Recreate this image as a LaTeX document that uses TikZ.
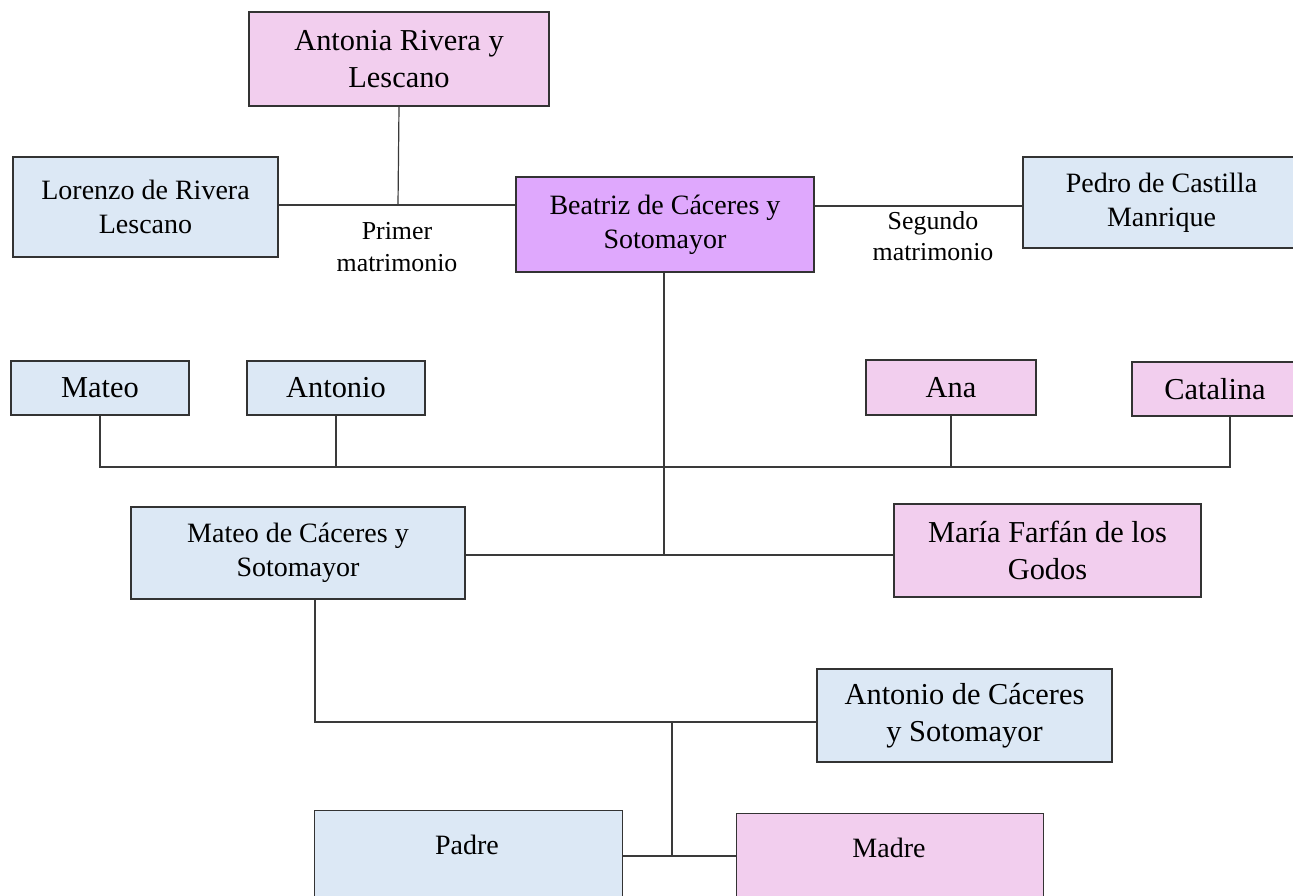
\documentclass[tikz,border=0pt]{standalone}
\usepackage{fontspec}
\setmainfont{Liberation Serif}
\definecolor{pinkf}{HTML}{F2CEEE}
\definecolor{bluef}{HTML}{DCE8F5}
\definecolor{lavf}{HTML}{DFA8FD}
\definecolor{edgec}{HTML}{333333}
\definecolor{linec}{HTML}{3A3A3A}
\tikzset{
 box/.style={draw=edgec, line width=1.1pt, rectangle, inner sep=0pt, align=center},
 sz/.style 2 args={minimum width=#1*0.75pt, minimum height=#2*0.75pt},
 bigt/.style={font=\fontsize{22.8}{27.5}\selectfont},
 medt/.style={font=\fontsize{21}{25.5}\selectfont},
 smallt/.style={font=\fontsize{19.4}{23.5}\selectfont},
 link/.style={draw=linec, line width=0.9pt},
}
\begin{document}
\begin{tikzpicture}[x=0.75pt,y=-0.75pt]
\useasboundingbox (0,0) rectangle (1293,896);
\clip (0,0) rectangle (1293,896);
\fill[white] (0,0) rectangle (1293,896);

% top generation
\node[box, fill=pinkf, bigt, sz={300}{94}] (antonia) at (399,59) {Antonia Rivera y\\Lescano};
\node[box, fill=bluef, medt, sz={265}{100}] (lorenzo) at (145.5,207) {Lorenzo de Rivera\\Lescano};
\node[box, fill=lavf, medt, sz={298}{95}] (beatriz) at (665,224.5) {Beatriz de Cáceres y\\Sotomayor};
\node[box, fill=bluef, medt, sz={277}{91}] (pedro) at (1161.5,202.5) {Pedro de Castilla\\Manrique};
\node[smallt, align=center] (primer) at (397,247) {Primer\\matrimonio};
\node[smallt, align=center] (segundo) at (933,236) {Segundo\\matrimonio};

% children
\node[box, fill=bluef, bigt, sz={178}{54}] (mateo) at (100,388) {Mateo};
\node[box, fill=bluef, bigt, sz={178}{54}] (antonio) at (336,388) {Antonio};
\node[box, fill=pinkf, bigt, sz={170}{55}] (ana) at (951,387.5) {Ana};
\node[box, fill=pinkf, bigt, sz={196}{54}] (catalina) at (1230,389) {\hspace*{-22.5pt}Catalina};

% next generation
\node[box, fill=bluef, medt, sz={334}{92}] (mateoc) at (298,553) {Mateo de Cáceres y\\Sotomayor};
\node[box, fill=pinkf, bigt, sz={307}{93}] (maria) at (1047.5,550.5) {María Farfán de los\\Godos};
\node[box, fill=bluef, bigt, sz={295}{93}] (antonioc) at (964.5,715.5) {Antonio de Cáceres\\y Sotomayor};

% parents
\node[box, fill=bluef, sz={308}{130}, anchor=north west] (padre) at (314,810) {};
\node[medt] (padret) at (467,845) {Padre};
\node[box, fill=pinkf, sz={307}{130}, anchor=north west] (madre) at (736,813) {};
\node[medt] (madret) at (889,848) {Madre};

% junction coordinates
\coordinate (jfirst) at (398,205);
\coordinate (jkids) at (664,467);
\coordinate (jmateo) at (664,555);
\coordinate (jant) at (672,722);
\coordinate (jpar) at (672,856);

% connectors
\draw[link] (lorenzo.east |- jfirst) -- (beatriz.west |- jfirst);
\draw[link] (antonia.south) -- (jfirst);
\draw[link] (beatriz.east |- 0,206) -- (pedro.west |- 0,206);
\draw[link] (beatriz.south -| jkids) -- (jmateo);
\draw[link] (mateo.south) -- (mateo.south |- jkids) -- (1230,467) -- (catalina.south);
\draw[link] (antonio.south) -- (antonio.south |- jkids);
\draw[link] (ana.south) -- (ana.south |- jkids);
\draw[link] (mateoc.east |- jmateo) -- (maria.west |- jmateo);
\draw[link] (mateoc.south -| 315,0) -- (315,722) -- (antonioc.west |- jant);
\draw[link] (jant) -- (jpar);
\draw[link] (padre.east |- jpar) -- (madre.west |- jpar);
\end{tikzpicture}
\end{document}
